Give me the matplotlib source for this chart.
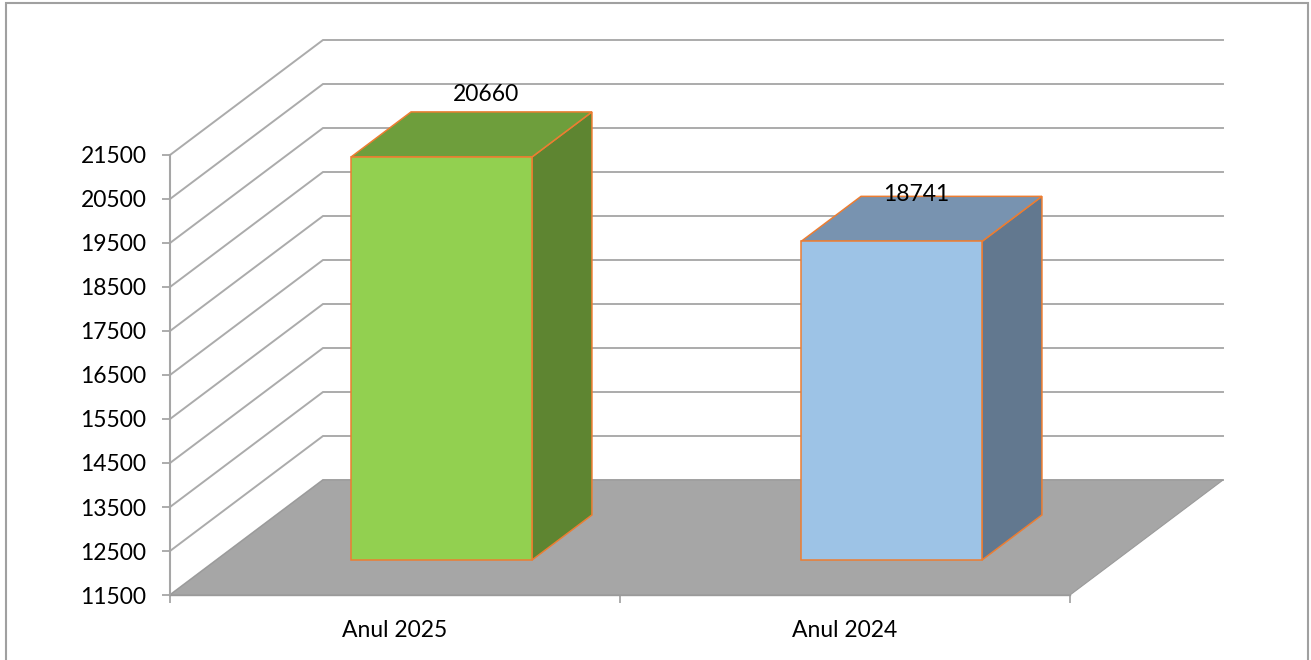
import matplotlib.pyplot as plt
from matplotlib.patches import Polygon, Rectangle

plt.rcParams['font.family'] = ['Lato', 'DejaVu Sans']

categories = ['Anul 2025', 'Anul 2024']
values = [20660, 18741]
y_ticks = [11500, 12500, 13500, 14500, 15500, 16500, 17500, 18500, 19500, 20500, 21500]

front_colors = ['#92D050', '#9DC3E6']
top_colors = ['#6E9E3C', '#7893B0']
side_colors = ['#5E8531', '#62788F']
edge_color = '#ED7D31'
grid_color = '#ABABAB'
label_offsets = [(14, 40), (-5, 24)]   # pixels, from the centre of each bar top

W, H = 1311, 660
fig = plt.figure(figsize=(W / 100, H / 100), dpi=100)
# front plane of the 3d box
ax = fig.add_axes([170 / W, 65 / H, 900 / W, 440 / H])
ymin, ymax = y_ticks[0], y_ticks[-1]
ax.set_xlim(0, len(categories))
ax.set_ylim(ymin, ymax)

# depth offset (full depth) in data units
DX = 153 / 900 * len(categories)
DY = 115 / 440 * (ymax - ymin)


def proj(c, v, d):
    return (c + d * DX, v + d * DY)


def poly(pts, fc, ec='none', lw=0, z=1):
    ax.add_patch(Polygon([proj(*p) for p in pts], closed=True, facecolor=fc,
                         edgecolor=ec, linewidth=lw, zorder=z, clip_on=False))


n = len(categories)
# side and back wall grid lines
for v in y_ticks:
    xs, ys = zip(proj(0, v, 0), proj(0, v, 1), proj(n, v, 1))
    ax.plot(xs, ys, color=grid_color, lw=1.4, zorder=1, clip_on=False,
            solid_joinstyle='miter')

# floor
poly([(0, ymin, 0), (n, ymin, 0), (n, ymin, 1), (0, ymin, 1)],
     '#A6A6A6', ec='#9A9A9A', lw=0.8, z=2)

# bars
half = 0.201
d0, d1 = 0.304, 0.696
for i, v in enumerate(values):
    c = i + 0.5
    l, r = c - half, c + half
    poly([(r, ymin, d0), (r, ymin, d1), (r, v, d1), (r, v, d0)],
         side_colors[i], edge_color, 1.1, 3)
    poly([(l, v, d0), (r, v, d0), (r, v, d1), (l, v, d1)],
         top_colors[i], edge_color, 1.1, 3)
    poly([(l, ymin, d0), (r, ymin, d0), (r, v, d0), (l, v, d0)],
         front_colors[i], edge_color, 1.1, 4)
    ax.annotate(f'{v}', xy=proj(c, v, 0.5), xytext=label_offsets[i],
                textcoords='offset pixels', ha='center', va='center',
                fontsize=16.5, color='black', zorder=6, annotation_clip=False)

# axes
for s in ['top', 'right']:
    ax.spines[s].set_visible(False)
ax.spines['left'].set_color('#A6A6A6')
ax.spines['left'].set_linewidth(1.5)
ax.spines['left'].set_zorder(5)
ax.spines['bottom'].set_color('#9A9A9A')
ax.spines['bottom'].set_linewidth(1.0)
ax.spines['bottom'].set_zorder(5)
ax.patch.set_visible(False)

ax.set_yticks(y_ticks)
ax.set_yticklabels([str(t) for t in y_ticks])
ax.tick_params(axis='y', direction='out', length=6, width=1.3, color='#A6A6A6',
               pad=11, labelsize=16.5, labelcolor='black')
ax.set_xticks(range(n + 1))
ax.set_xticklabels([])
ax.set_xticks([i + 0.5 for i in range(n)], minor=True)
ax.set_xticklabels(categories, minor=True)
ax.tick_params(axis='x', which='major', direction='out', length=6, width=1.3,
               color='#A6A6A6')
ax.tick_params(axis='x', which='minor', length=0, pad=18, labelsize=16.5,
               labelcolor='black')

# chart border
fig.patches.append(Rectangle((6 / W, -0.02), 1302 / W, 1 - 3 / H + 0.02,
                             transform=fig.transFigure, fill=False,
                             edgecolor='#A0A0A0', linewidth=1.5))

fig.savefig('out.png', dpi=100)
